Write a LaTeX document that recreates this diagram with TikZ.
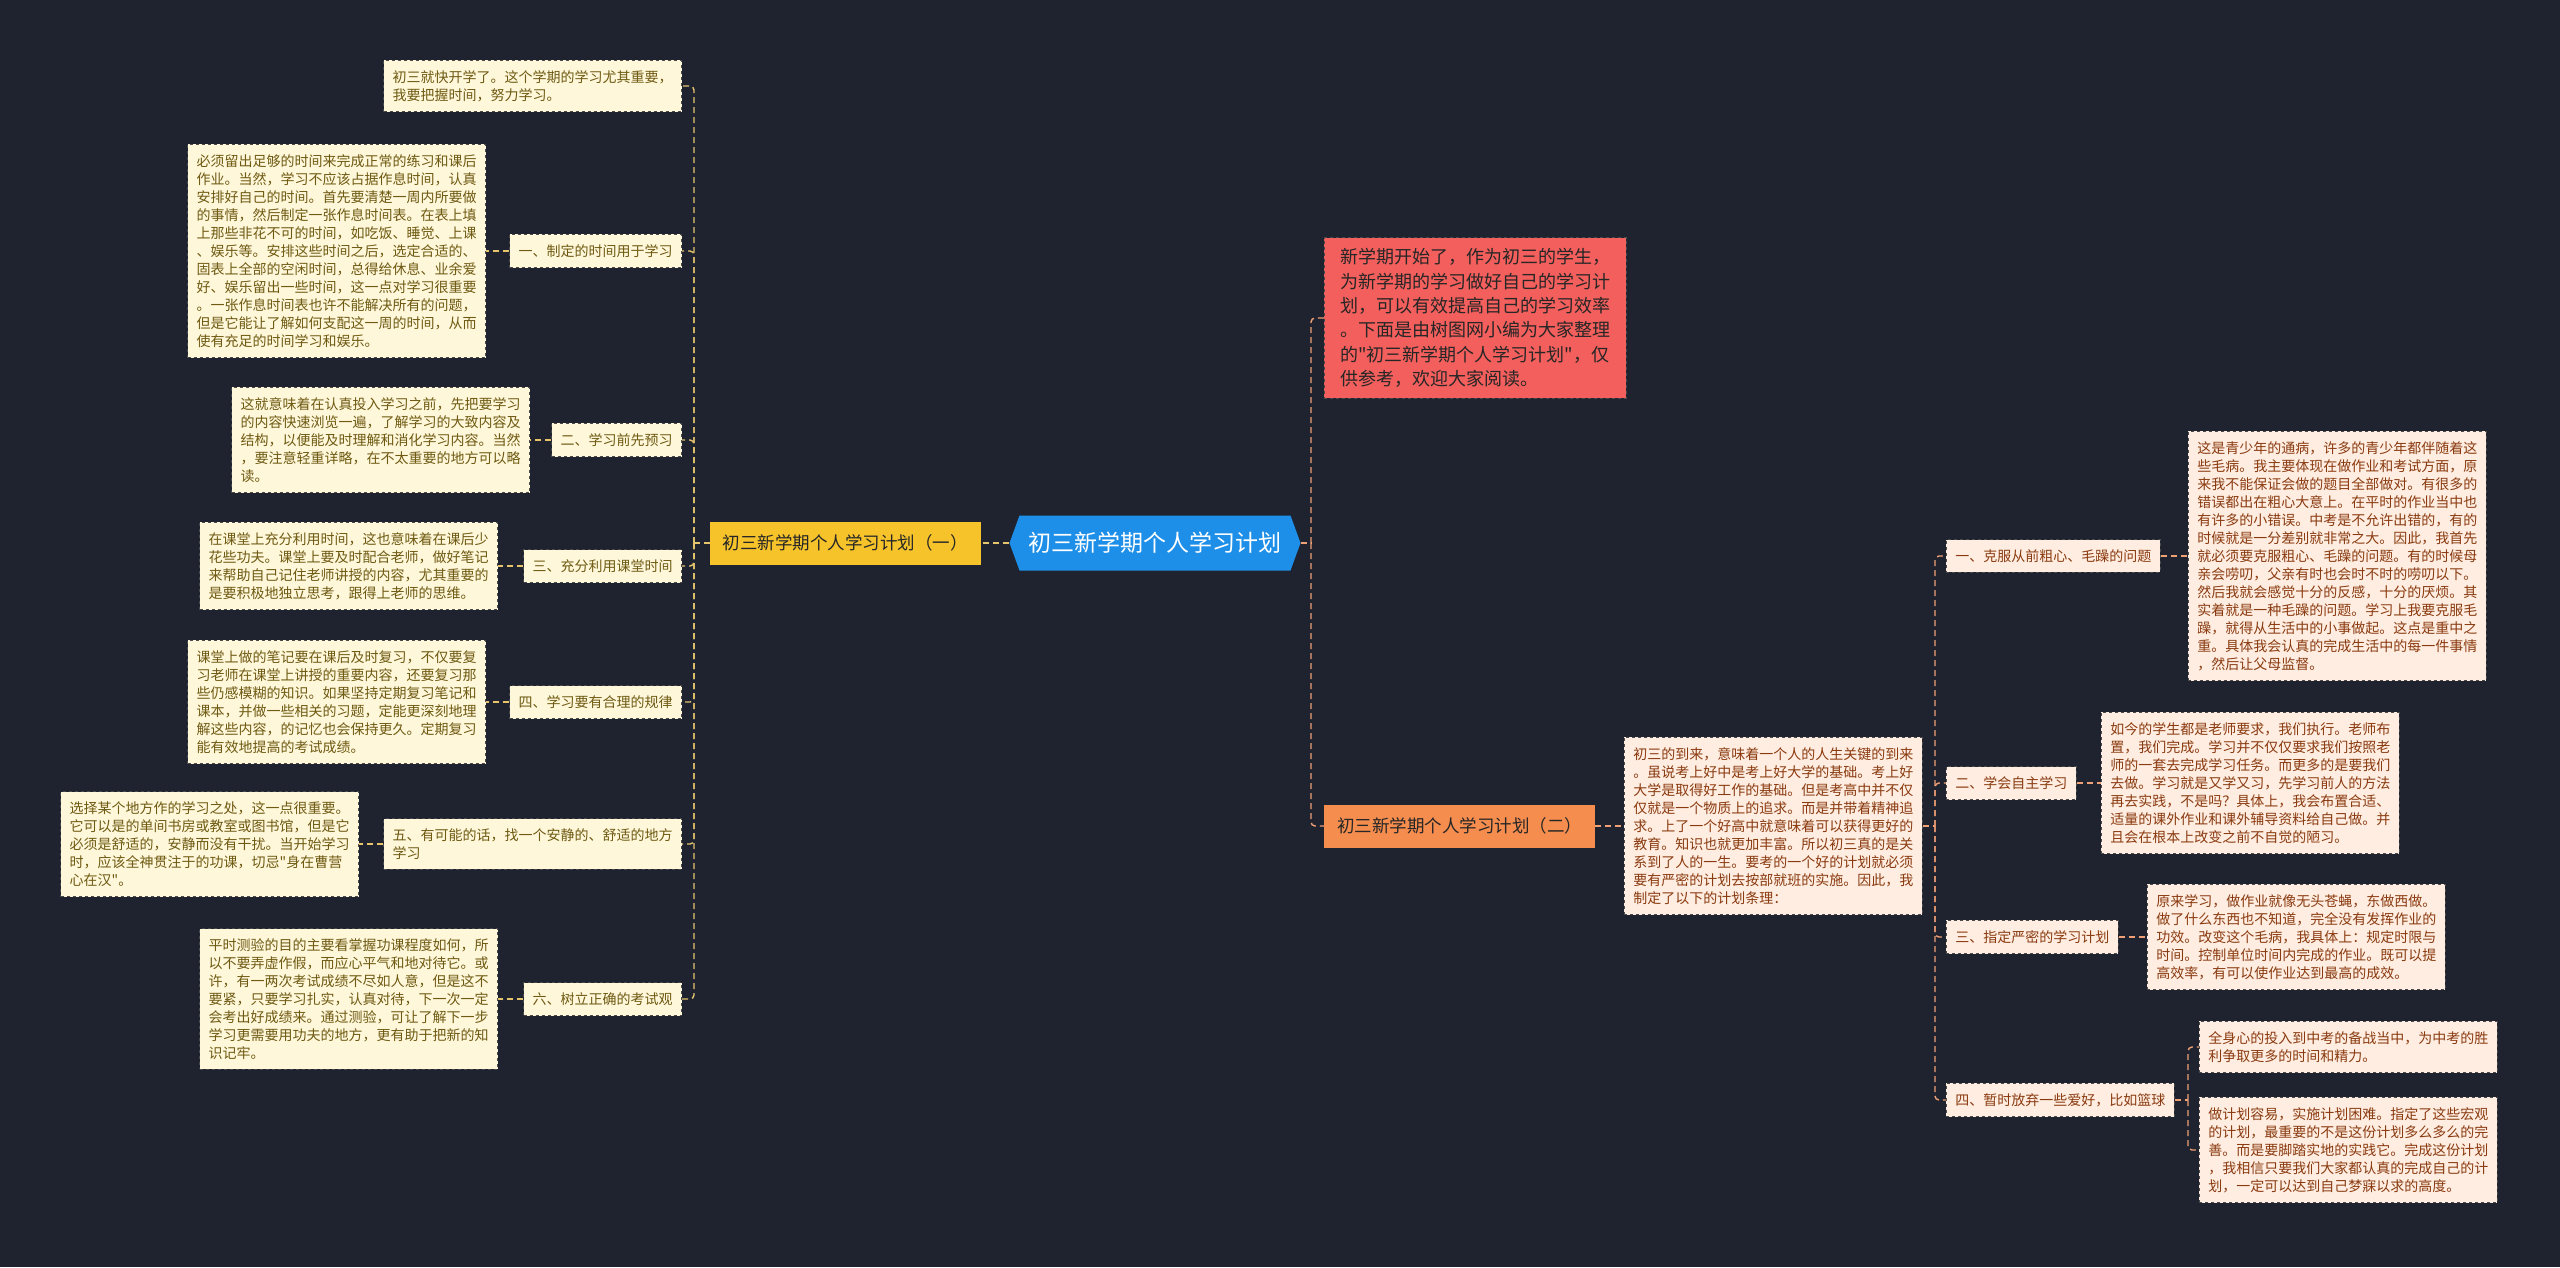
\documentclass[tikz,border=0pt]{standalone}
\usepackage{fontspec}
\newfontfamily\cjkfont{Noto Sans CJK SC}
\usepackage{tikz}
\usetikzlibrary{shapes.symbols}
\definecolor{pagebg}{HTML}{1F2330}
\definecolor{rootblue}{HTML}{1E8FE8}
\definecolor{leftgold}{HTML}{F6C32B}
\definecolor{rightorange}{HTML}{F58D4E}
\definecolor{introred}{HTML}{F25F5C}
\definecolor{creamfill}{HTML}{FFF7DA}
\definecolor{creamtext}{HTML}{6E5A12}
\definecolor{peachfill}{HTML}{FEEDE0}
\definecolor{peachtext}{HTML}{8A3A10}
\definecolor{edgegray}{HTML}{4A4A4A}
\definecolor{leftline}{HTML}{E5C46C}
\definecolor{rightline}{HTML}{EFA074}

\begin{document}
\begin{tikzpicture}[x=1pt,y=-1pt, every node/.style={align=left, font=\cjkfont\fontsize{14}{18}\selectfont, inner xsep=9pt, inner ysep=10pt},
  lbox/.style={draw=edgegray,dashed,line width=.6pt,fill=creamfill,text=creamtext},
  rbox/.style={draw=edgegray,dashed,line width=.6pt,fill=peachfill,text=peachtext},
  lconn/.style={draw=leftline,line width=1.4pt,dash pattern=on 6pt off 4pt,rounded corners=4pt},
  rconn/.style={draw=rightline,line width=1.4pt,dash pattern=on 6pt off 4pt,rounded corners=4pt}]
\fill[pagebg] (0,0) rectangle (2560,1267);
\useasboundingbox (0,0) rectangle (2560,1267);
% centre
\node[signal,signal to=east and west,signal pointer angle=140,fill=rootblue,text=white,font=\cjkfont\fontsize{23}{28}\selectfont,minimum height=55pt,inner xsep=9pt,inner ysep=6pt] (root) at (1155,543) {初三新学期个人学习计划};
% left branch
\node[fill=leftgold,text=black!85,font=\cjkfont\fontsize{17.5}{22}\selectfont,minimum height=43pt,inner xsep=13pt,inner ysep=6pt,anchor=east] (plan1) at (981,543) {初三新学期个人学习计划（一）};
\coordinate (ltrunk) at (694,543);
\node[lbox,anchor=east] (intro1) at (682,86) {初三就快开学了。这个学期的学习尤其重要，\\我要把握时间，努力学习。};
\node[lbox,anchor=east] (tip1) at (682,251) {一、制定的时间用于学习};
\node[lbox,anchor=east] (tip1t) at (486,251) {必须留出足够的时间来完成正常的练习和课后\\作业。当然，学习不应该占据作息时间，认真\\安排好自己的时间。首先要清楚一周内所要做\\的事情，然后制定一张作息时间表。在表上填\\上那些非花不可的时间，如吃饭、睡觉、上课\\、娱乐等。安排这些时间之后，选定合适的、\\固表上全部的空闲时间，总得给休息、业余爱\\好、娱乐留出一些时间，这一点对学习很重要\\。一张作息时间表也许不能解决所有的问题，\\但是它能让了解如何支配这一周的时间，从而\\使有充足的时间学习和娱乐。};
\node[lbox,anchor=east] (tip2) at (682,440) {二、学习前先预习};
\node[lbox,anchor=east] (tip2t) at (530,440) {这就意味着在认真投入学习之前，先把要学习\\的内容快速浏览一遍，了解学习的大致内容及\\结构，以便能及时理解和消化学习内容。当然\\，要注意轻重详略，在不太重要的地方可以略\\读。};
\node[lbox,anchor=east] (tip3) at (682,566) {三、充分利用课堂时间};
\node[lbox,anchor=east] (tip3t) at (498,566) {在课堂上充分利用时间，这也意味着在课后少\\花些功夫。课堂上要及时配合老师，做好笔记\\来帮助自己记住老师讲授的内容，尤其重要的\\是要积极地独立思考，跟得上老师的思维。};
\node[lbox,anchor=east] (tip4) at (682,702) {四、学习要有合理的规律};
\node[lbox,anchor=east] (tip4t) at (486,702) {课堂上做的笔记要在课后及时复习，不仅要复\\习老师在课堂上讲授的重要内容，还要复习那\\些仍感模糊的知识。如果坚持定期复习笔记和\\课本，并做一些相关的习题，定能更深刻地理\\解这些内容，的记忆也会保持更久。定期复习\\能有效地提高的考试成绩。};
\node[lbox,anchor=east] (tip5) at (682,844) {五、有可能的话，找一个安静的、舒适的地方\\学习};
\node[lbox,anchor=east] (tip5t) at (359,844) {选择某个地方作的学习之处，这一点很重要。\\它可以是的单间书房或教室或图书馆，但是它\\必须是舒适的，安静而没有干扰。当开始学习\\时，应该全神贯注于的功课，切忌"身在曹营\\心在汉"。};
\node[lbox,anchor=east] (tip6) at (682,999) {六、树立正确的考试观};
\node[lbox,anchor=east] (tip6t) at (498,999) {平时测验的目的主要看掌握功课程度如何，所\\以不要弄虚作假，而应心平气和地对待它。或\\许，有一两次考试成绩不尽如人意，但是这不\\要紧，只要学习扎实，认真对待，下一次一定\\会考出好成绩来。通过测验，可让了解下一步\\学习更需要用功夫的地方，更有助于把新的知\\识记牢。};
% right branch
\coordinate (rtrunk) at (1311,543);
\node[fill=introred,draw=edgegray,dashed,line width=.6pt,text=black!85,font=\cjkfont\fontsize{18}{24.3}\selectfont,inner xsep=16pt,inner ysep=11pt,anchor=west] (intro2) at (1324,318) {新学期开始了，作为初三的学生，\\为新学期的学习做好自己的学习计\\划，可以有效提高自己的学习效率\\。下面是由树图网小编为大家整理\\的"初三新学期个人学习计划"，仅\\供参考，欢迎大家阅读。};
\node[fill=rightorange,text=black!85,font=\cjkfont\fontsize{17.5}{22}\selectfont,minimum height=43pt,inner xsep=13pt,inner ysep=6pt,anchor=west] (plan2) at (1324,826) {初三新学期个人学习计划（二）};
\node[rbox,anchor=west] (why) at (1624,826) {初三的到来，意味着一个人的人生关键的到来\\。虽说考上好中是考上好大学的基础。考上好\\大学是取得好工作的基础。但是考高中并不仅\\仅就是一个物质上的追求。而是并带着精神追\\求。上了一个好高中就意味着可以获得更好的\\教育。知识也就更加丰富。所以初三真的是关\\系到了人的一生。要考的一个好的计划就必须\\要有严密的计划去按部就班的实施。因此，我\\制定了以下的计划条理：};
\coordinate (ctrunk) at (1935,826);
\node[rbox,anchor=west] (goal1) at (1946,556) {一、克服从前粗心、毛躁的问题};
\node[rbox,anchor=west] (goal1t) at (2188,556) {这是青少年的通病，许多的青少年都伴随着这\\些毛病。我主要体现在做作业和考试方面，原\\来我不能保证会做的题目全部做对。有很多的\\错误都出在粗心大意上。在平时的作业当中也\\有许多的小错误。中考是不允许出错的，有的\\时候就是一分差别就非常之大。因此，我首先\\就必须要克服粗心、毛躁的问题。有的时候母\\亲会唠叨，父亲有时也会时不时的唠叨以下。\\然后我就会感觉十分的反感，十分的厌烦。其\\实着就是一种毛躁的问题。学习上我要克服毛\\躁，就得从生活中的小事做起。这点是重中之\\重。具体我会认真的完成生活中的每一件事情\\，然后让父母监督。};
\node[rbox,anchor=west] (goal2) at (1946,783) {二、学会自主学习};
\node[rbox,anchor=west] (goal2t) at (2101,783) {如今的学生都是老师要求，我们执行。老师布\\置，我们完成。学习并不仅仅要求我们按照老\\师的一套去完成学习任务。而更多的是要我们\\去做。学习就是又学又习，先学习前人的方法\\再去实践，不是吗？具体上，我会布置合适、\\适量的课外作业和课外辅导资料给自己做。并\\且会在根本上改变之前不自觉的陋习。};
\node[rbox,anchor=west] (goal3) at (1946,937) {三、指定严密的学习计划};
\node[rbox,anchor=west] (goal3t) at (2147,937) {原来学习，做作业就像无头苍蝇，东做西做。\\做了什么东西也不知道，完全没有发挥作业的\\功效。改变这个毛病，我具体上：规定时限与\\时间。控制单位时间内完成的作业。既可以提\\高效率，有可以使作业达到最高的成效。};
\node[rbox,anchor=west] (goal4) at (1946,1100) {四、暂时放弃一些爱好，比如篮球};
\coordinate (qtrunk) at (2188,1100);
\node[rbox,anchor=west] (goal4a) at (2199,1047) {全身心的投入到中考的备战当中，为中考的胜\\利争取更多的时间和精力。};
\node[rbox,anchor=west] (goal4b) at (2199,1150) {做计划容易，实施计划困难。指定了这些宏观\\的计划，最重要的不是这份计划多么多么的完\\善。而是要脚踏实地的实践它。完成这份计划\\，我相信只要我们大家都认真的完成自己的计\\划，一定可以达到自己梦寐以求的高度。};
% connectors
\draw[lconn] (root.west) -- (plan1.east);
\draw[lconn] (plan1.west) -- (ltrunk);
\draw[lconn] (ltrunk) |- (intro1.east);
\draw[lconn] (ltrunk) |- (tip1.east);
\draw[lconn] (ltrunk) |- (tip2.east);
\draw[lconn] (ltrunk) |- (tip3.east);
\draw[lconn] (ltrunk) |- (tip4.east);
\draw[lconn] (ltrunk) |- (tip5.east);
\draw[lconn] (ltrunk) |- (tip6.east);
\draw[lconn] (tip1.west) -- (tip1t.east);
\draw[lconn] (tip2.west) -- (tip2t.east);
\draw[lconn] (tip3.west) -- (tip3t.east);
\draw[lconn] (tip4.west) -- (tip4t.east);
\draw[lconn] (tip5.west) -- (tip5t.east);
\draw[lconn] (tip6.west) -- (tip6t.east);
\draw[rconn] (root.east) -- (rtrunk);
\draw[rconn] (rtrunk) |- (intro2.west);
\draw[rconn] (rtrunk) |- (plan2.west);
\draw[rconn] (plan2.east) -- (why.west);
\draw[rconn] (why.east) -- (ctrunk);
\draw[rconn] (ctrunk) |- (goal1.west);
\draw[rconn] (ctrunk) |- (goal2.west);
\draw[rconn] (ctrunk) |- (goal3.west);
\draw[rconn] (ctrunk) |- (goal4.west);
\draw[rconn] (goal1.east) -- (goal1t.west);
\draw[rconn] (goal2.east) -- (goal2t.west);
\draw[rconn] (goal3.east) -- (goal3t.west);
\draw[rconn] (goal4.east) -- (qtrunk);
\draw[rconn] (qtrunk) |- (goal4a.west);
\draw[rconn] (qtrunk) |- (goal4b.west);
\end{tikzpicture}
\end{document}
